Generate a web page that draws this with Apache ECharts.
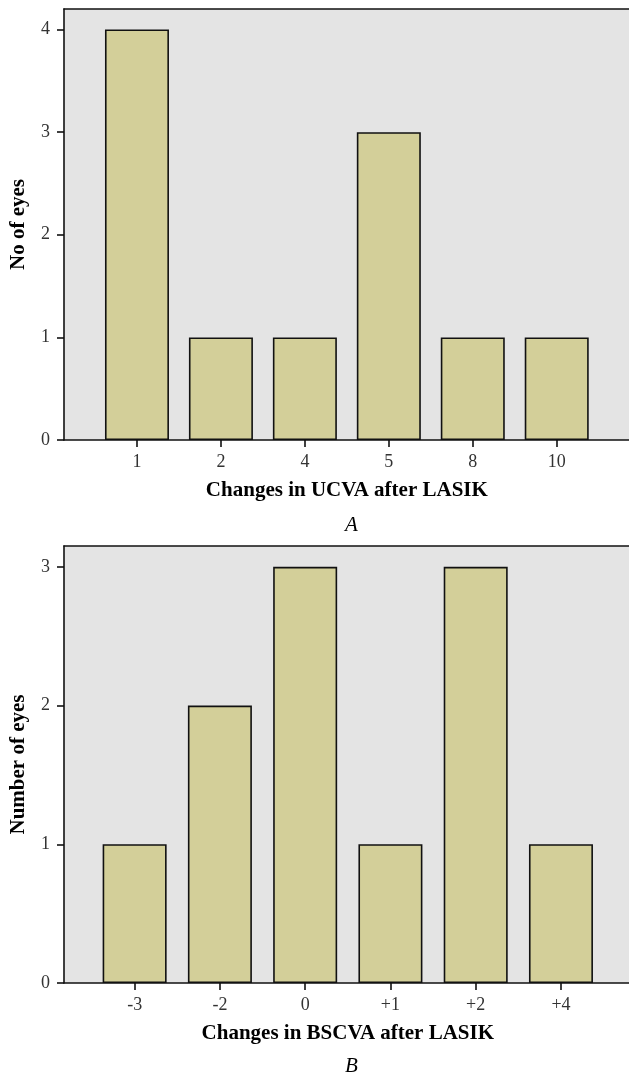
<!DOCTYPE html>
<html>
<head>
<meta charset="utf-8">
<script src="https://cdn.jsdelivr.net/npm/echarts@6/dist/echarts.min.js"></script>
<style>
    html, body { margin: 0; padding: 0; background: #fff; }
    #chart { width: 629px; height: 1075px; }
</style>
</head>
<body>
<div id="chart"></div>
<script>
var ucvaCategories = ['1', '2', '4', '5', '8', '10'];
var ucvaEyes = [4, 1, 1, 3, 1, 1];
var ucvaTicks = [0, 1, 2, 3, 4];
var bscvaCategories = ['-3', '-2', '0', '+1', '+2', '+4'];
var bscvaEyes = [1, 2, 3, 1, 3, 1];
var bscvaTicks = [0, 1, 2, 3];

var serif = 'Liberation Serif';
var barColor = '#d3cf99';
var plotBg = '#e4e4e4';
var ink = '#111';

// frame axes: bottom and top lines of the grey plot box
function frameX(gridIndex, position) {
    return {
        gridIndex: gridIndex,
        type: 'value',
        position: position,
        min: 0,
        max: 1,
        axisLine: { show: true, onZero: false, lineStyle: { color: ink, width: 1.6 } },
        axisTick: { show: false },
        axisLabel: { show: false },
        splitLine: { show: false }
    };
}

function frameY(gridIndex, max, ticks, name) {
    return {
        gridIndex: gridIndex,
        type: 'value',
        min: 0,
        max: max,
        interval: 1,
        name: name,
        nameLocation: 'middle',
        nameGap: 35,
        nameTextStyle: { fontFamily: serif, fontWeight: 'bold', fontSize: 21, color: '#000' },
        axisLine: { show: true, lineStyle: { color: ink, width: 1.6 } },
        axisTick: { show: true, length: 7, customValues: ticks, lineStyle: { color: ink, width: 1.6 } },
        axisLabel: { fontFamily: serif, fontSize: 18, color: '#333', margin: 14, customValues: ticks },
        splitLine: { show: false }
    };
}

function barX(gridIndex, cats, name) {
    return {
        gridIndex: gridIndex,
        type: 'category',
        data: cats,
        name: name,
        nameLocation: 'middle',
        nameGap: 40,
        nameTextStyle: { fontFamily: serif, fontWeight: 'bold', fontSize: 21, color: '#000' },
        axisLine: { show: false },
        axisTick: { show: true, alignWithLabel: true, length: 7, lineStyle: { color: ink, width: 1.6 } },
        axisLabel: { fontFamily: serif, fontSize: 18, color: '#333', margin: 13 },
        splitLine: { show: false }
    };
}

function barY(gridIndex, max) {
    return { gridIndex: gridIndex, type: 'value', min: 0, max: max, show: false };
}

var myChart = echarts.init(document.getElementById('chart'));
var option = {
    animation: false,
    title: [
        { text: 'A', left: 340, top: 510,
          textStyle: { fontFamily: serif, fontStyle: 'italic', fontWeight: 'normal', fontSize: 21, color: '#000' } },
        { text: 'B', left: 340, top: 1051,
          textStyle: { fontFamily: serif, fontStyle: 'italic', fontWeight: 'normal', fontSize: 21, color: '#000' } }
    ],
    grid: [
        { left: 64, right: 0, top: 9, height: 431, show: true, backgroundColor: plotBg, borderWidth: 0 },
        { left: 95, right: 30.3, top: 9, height: 431 },
        { left: 64, right: 0, top: 546, height: 437, show: true, backgroundColor: plotBg, borderWidth: 0 },
        { left: 92, right: 25.4, top: 546, height: 437 }
    ],
    xAxis: [
        frameX(0, 'bottom'),
        frameX(0, 'top'),
        barX(1, ucvaCategories, 'Changes in UCVA after LASIK'),
        frameX(2, 'bottom'),
        frameX(2, 'top'),
        barX(3, bscvaCategories, 'Changes in BSCVA after LASIK')
    ],
    yAxis: [
        frameY(0, 4.2, ucvaTicks, 'No of eyes'),
        barY(1, 4.2),
        frameY(2, 3.15, bscvaTicks, 'Number of eyes'),
        barY(3, 3.15)
    ],
    series: [
        {
            type: 'bar', xAxisIndex: 2, yAxisIndex: 1, data: ucvaEyes, barWidth: 64,
            itemStyle: { color: barColor, borderColor: ink, borderWidth: 1.6 }
        },
        {
            type: 'bar', xAxisIndex: 5, yAxisIndex: 3, data: bscvaEyes, barWidth: 64,
            itemStyle: { color: barColor, borderColor: ink, borderWidth: 1.6 }
        }
    ]
};
myChart.setOption(option);
</script>
</body>
</html>
